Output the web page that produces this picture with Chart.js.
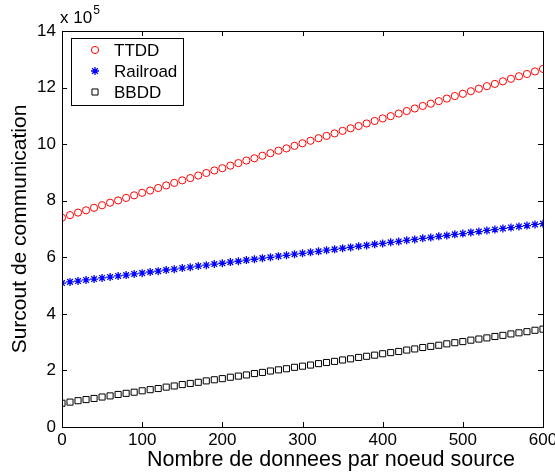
<!DOCTYPE html>
<html>
<head>
<meta charset="utf-8">
<script src="https://cdn.jsdelivr.net/npm/chart.js@4"></script>
<style>
  body { margin: 0; background: #fff; }
  #wrap { width: 555px; height: 472px; }
</style>
</head>
<body>
<div id="wrap"><canvas id="chart"></canvas></div>
<script>
// Data (values in units of 10^5)
const nbDonnees = [0, 10, 20, 30, 40, 50, 60, 70, 80, 90, 100, 110, 120, 130, 140, 150, 160, 170, 180, 190, 200,
  210, 220, 230, 240, 250, 260, 270, 280, 290, 300, 310, 320, 330, 340, 350, 360, 370, 380, 390, 400,
  410, 420, 430, 440, 450, 460, 470, 480, 490, 500, 510, 520, 530, 540, 550, 560, 570, 580, 590, 600];

const ttdd = [7.40, 7.49, 7.58, 7.66, 7.75, 7.84, 7.93, 8.01, 8.10, 8.19, 8.28, 8.36, 8.45, 8.54, 8.63, 8.72,
  8.80, 8.89, 8.98, 9.07, 9.15, 9.24, 9.33, 9.42, 9.50, 9.59, 9.68, 9.77, 9.85, 9.94, 10.03, 10.12, 10.21,
  10.29, 10.38, 10.47, 10.56, 10.64, 10.73, 10.82, 10.91, 10.99, 11.08, 11.17, 11.26, 11.35, 11.43, 11.52,
  11.61, 11.70, 11.78, 11.87, 11.96, 12.05, 12.13, 12.22, 12.31, 12.40, 12.48, 12.57, 12.66];

const railroad = [5.09, 5.13, 5.16, 5.20, 5.23, 5.27, 5.30, 5.34, 5.37, 5.41, 5.44, 5.48, 5.51, 5.55, 5.58, 5.62,
  5.65, 5.69, 5.72, 5.76, 5.79, 5.83, 5.86, 5.90, 5.93, 5.97, 6.00, 6.04, 6.07, 6.11, 6.14, 6.18, 6.21,
  6.25, 6.28, 6.32, 6.35, 6.39, 6.42, 6.46, 6.49, 6.53, 6.56, 6.60, 6.63, 6.67, 6.70, 6.74, 6.77, 6.81,
  6.84, 6.88, 6.91, 6.95, 6.98, 7.02, 7.05, 7.09, 7.12, 7.16, 7.19];

const bbdd = [0.84, 0.88, 0.93, 0.97, 1.01, 1.06, 1.10, 1.15, 1.19, 1.23, 1.28, 1.32, 1.36, 1.41, 1.45, 1.50,
  1.54, 1.58, 1.63, 1.67, 1.71, 1.76, 1.80, 1.84, 1.89, 1.93, 1.98, 2.02, 2.06, 2.11, 2.15, 2.19, 2.24,
  2.28, 2.32, 2.37, 2.41, 2.46, 2.50, 2.54, 2.59, 2.63, 2.67, 2.72, 2.76, 2.81, 2.85, 2.89, 2.94, 2.98,
  3.02, 3.07, 3.11, 3.15, 3.20, 3.24, 3.29, 3.33, 3.37, 3.42, 3.46];

const xTicks = [0, 100, 200, 300, 400, 500, 600];
const yTicks = [0, 2, 4, 6, 8, 10, 12, 14];

const FONT = "'Liberation Sans', Arial, sans-serif";

function toPoints(values) {
  return values.map((v, i) => ({ x: nbDonnees[i], y: v }));
}

// Frame, inward ticks, exponent label, x label and legend (MATLAB look)
const matlabAxes = {
  id: 'matlabAxes',
  afterDatasetsDraw(chart) {
    const { ctx, chartArea: a, scales } = chart;
    ctx.save();
    ctx.strokeStyle = '#000';
    ctx.lineWidth = 1;
    ctx.strokeRect(a.left + 0.5, a.top + 0.5, a.right - a.left, a.bottom - a.top);
    const t = 5;
    ctx.beginPath();
    xTicks.forEach(v => {
      const px = Math.round(scales.x.getPixelForValue(v)) + 0.5;
      ctx.moveTo(px, a.bottom); ctx.lineTo(px, a.bottom - t);
      ctx.moveTo(px, a.top); ctx.lineTo(px, a.top + t);
    });
    yTicks.forEach(v => {
      const py = Math.round(scales.y.getPixelForValue(v)) + 0.5;
      ctx.moveTo(a.left, py); ctx.lineTo(a.left + t, py);
      ctx.moveTo(a.right, py); ctx.lineTo(a.right - t, py);
    });
    ctx.stroke();

    // x 10^5
    ctx.fillStyle = '#000';
    ctx.textBaseline = 'alphabetic';
    ctx.font = '17px ' + FONT;
    ctx.fillText('x 10', a.left - 2, a.top - 8);
    const w = ctx.measureText('x 10').width;
    ctx.font = '12px ' + FONT;
    ctx.fillText('5', a.left - 2 + w + 1, a.top - 17);

    // x axis label
    ctx.font = '21.5px ' + FONT;
    ctx.textAlign = 'center';
    ctx.fillText('Nombre de donnees par noeud source', 331, 466);
    ctx.textAlign = 'left';

    // legend box
    const lx = a.left + 9, ly = a.top + 7, lw = 112, lh = 67;
    ctx.fillStyle = '#fff';
    ctx.fillRect(lx, ly, lw, lh);
    ctx.strokeRect(lx + 0.5, ly + 0.5, lw, lh);
    chart.data.datasets.forEach((ds, i) => {
      const cy = ly + 12 + i * 21;
      ctx.strokeStyle = ds.borderColor;
      ctx.fillStyle = ds.backgroundColor;
      ctx.lineWidth = ds.pointBorderWidth;
      Chart.helpers.drawPoint(ctx, {
        pointStyle: ds.pointStyle, radius: ds.pointRadius, rotation: 0,
        borderWidth: ds.pointBorderWidth
      }, lx + 24, cy);
      ctx.strokeStyle = '#000';
      ctx.lineWidth = 1;
      ctx.fillStyle = '#000';
      ctx.font = '17px ' + FONT;
      ctx.textBaseline = 'middle';
      ctx.fillText(ds.label, lx + 43, cy + 1);
    });
    ctx.restore();
  }
};

new Chart(document.getElementById('chart'), {
  type: 'scatter',
  data: {
    datasets: [
      { label: 'TTDD', data: toPoints(ttdd), pointStyle: 'circle', pointRadius: 3.6,
        borderColor: '#ff0000', backgroundColor: 'rgba(0,0,0,0)', pointBorderWidth: 1 },
      { label: 'Railroad', data: toPoints(railroad), pointStyle: 'star', pointRadius: 4,
        borderColor: '#0000ff', backgroundColor: '#0000ff', pointBorderWidth: 1.3 },
      { label: 'BBDD', data: toPoints(bbdd), pointStyle: 'rect', pointRadius: 4.3,
        borderColor: '#000000', backgroundColor: 'rgba(0,0,0,0)', pointBorderWidth: 1 }
    ]
  },
  options: {
    responsive: true,
    maintainAspectRatio: false,
    animation: false,
    layout: { padding: { left: 0, top: 31, right: 12, bottom: 0 } },
    plugins: { legend: { display: false }, tooltip: { enabled: false } },
    scales: {
      x: {
        type: 'linear', min: 0, max: 600,
        afterBuildTicks: s => { s.ticks = xTicks.map(v => ({ value: v })); },
        afterFit: s => { s.height = 45; s.paddingLeft = 0; s.paddingRight = 0; },
        grid: { display: false, drawTicks: false },
        border: { display: false },
        ticks: { color: '#000', font: { family: FONT, size: 17 }, padding: 3, maxRotation: 0 },
        title: { display: false }
      },
      y: {
        type: 'linear', min: 0, max: 14,
        afterBuildTicks: s => { s.ticks = yTicks.map(v => ({ value: v })); },
        afterFit: s => { s.width = 62; s.paddingTop = 0; s.paddingBottom = 0; },
        grid: { display: false, drawTicks: false },
        border: { display: false },
        ticks: { color: '#000', font: { family: FONT, size: 17 }, padding: 6 },
        title: { display: true, text: 'Surcout de communication', color: '#000',
          font: { family: FONT, size: 21 }, padding: { top: 8, bottom: 0 } }
      }
    }
  },
  plugins: [matlabAxes]
});
</script>
</body>
</html>
